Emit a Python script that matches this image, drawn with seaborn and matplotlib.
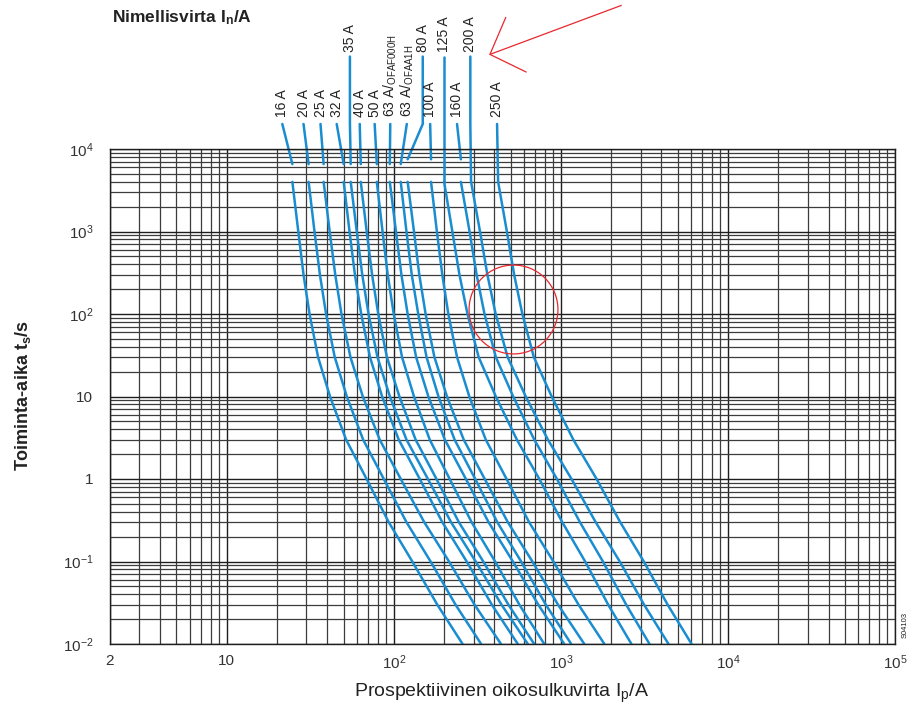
import numpy as np
import pandas as pd
import matplotlib
matplotlib.use("Agg")
import matplotlib.pyplot as plt
from matplotlib.ticker import FixedLocator, FixedFormatter, LogLocator, NullFormatter
import seaborn as sns

# operating time levels (s) at which the curves were read
t_levels = [4000, 1000, 300, 100, 30, 10, 3, 1, 0.3, 0.1, 0.03, 0.01]

ratings = ["16 A", "20 A", "25 A", "32 A", "35 A", "40 A", "50 A",
           "63 A/$\\mathregular{_{OFAF000H}}$", "63 A/$\\mathregular{_{OFAA1H}}$",
           "80 A", "100 A", "125 A", "160 A", "200 A", "250 A"]

# prospective current (A) of each curve at t_levels
i_16 = [24.7, 26.8, 28.8, 31.3, 35.2, 41.5, 51.8, 68.7, 93.2, 129, 182, 258]
i_20 = [30.9, 33.5, 36.1, 39.3, 44.3, 52.3, 65.5, 87.1, 119, 166, 234, 333]
i_25 = [38.0, 41.3, 44.6, 48.6, 55.0, 65.2, 82.3, 110, 152, 214, 304, 438]
i_32 = [50.1, 54.3, 58.5, 63.8, 72.0, 85.1, 107, 143, 195, 273, 386, 552]
i_35 = [55.2, 60.0, 64.7, 70.6, 79.8, 94.7, 119, 160, 220, 309, 441, 634]
i_40 = [63.4, 68.8, 74.1, 80.7, 90.9, 108, 135, 180, 245, 343, 485, 692]
i_50 = [79.1, 85.6, 91.9, 99.9, 112, 132, 164, 216, 292, 404, 564, 795]
i_63a = [94.6, 103, 111, 121, 136, 161, 202, 270, 369, 516, 732, 1047]
i_63b = [110, 119, 128, 140, 157, 185, 231, 307, 416, 578, 812, 1153]
i_80 = [121, 132, 142, 155, 175, 208, 262, 350, 481, 675, 961, 1381]
i_100 = [167, 181, 195, 212, 239, 283, 355, 473, 645, 902, 1275, 1821]
i_125 = [200, 224, 247, 276, 322, 408, 545, 743, 1019, 1397, 1919, 2644]
i_160 = [252, 284, 313, 349, 408, 518, 693, 947, 1300, 1785, 2459, 3392]
i_200 = [290, 328, 363, 407, 480, 616, 836, 1158, 1615, 2251, 3146, 4409]
i_250 = [421, 475, 525, 588, 689, 881, 1187, 1636, 2265, 3136, 4353, 6059]

# label positions above the grid (current, time at lower end of text)
label_x = [21.5, 28.8, 36.4, 45.5, 54.6, 62.5, 76.8, 95.2, 119.6, 149, 165, 200, 239, 287, 415]
label_row = [0, 0, 0, 0, 1, 0, 0, 0, 0, 1, 0, 1, 0, 1, 0]
row_text_t = [24500, 151000]
row_lead_t = [20100, 132000]
lead_knee_t = 20100
# where each leader line stops (gap before most curves)
lead_end_t = [6560, 6560, 6560, 6560, 6560, 6560, 6560, 6560, 6560,
              7500, 7500, 4000, 7500, 4000, 4000]

x_ticks = [2, 10, 100, 1000, 10000, 100000]
x_ticklabels = ["2", "10", "$\\mathregular{10^2}$", "$\\mathregular{10^3}$",
                "$\\mathregular{10^4}$", "$\\mathregular{10^5}$"]
y_ticks = [0.01, 0.1, 1, 10, 100, 1000, 10000]
y_ticklabels = ["$\\mathregular{10^{-2}}$", "$\\mathregular{10^{-1}}$", "1", "10",
                "$\\mathregular{10^2}$", "$\\mathregular{10^3}$", "$\\mathregular{10^4}$"]

# red highlight
circle_x, circle_t = 515, 116
arrow_tip = (372, 139000)
arrow_tail = (2300, 550000)

blue = "#1a8dd0"
red = "#e8282e"

sns.set_theme(style="white")
plt.rcParams["font.family"] = ["Liberation Sans", "DejaVu Sans"]

curves = [i_16, i_20, i_25, i_32, i_35, i_40, i_50, i_63a, i_63b,
          i_80, i_100, i_125, i_160, i_200, i_250]
df = pd.DataFrame([(r, i, t) for r, row in zip(ratings, curves)
                   for i, t in zip(row, t_levels)],
                  columns=["rating", "current", "time"])

fig = plt.figure(figsize=(9.15, 7.11), dpi=100)
ax = fig.add_axes([110 / 915, 1 - 644 / 711, 785 / 915, 495 / 711])
ax.set_xscale("log")
ax.set_yscale("log")

sns.lineplot(data=df, x="current", y="time", units="rating", estimator=None,
             sort=False, color=blue, linewidth=1.8, legend=False, ax=ax)

ax.set_xlim(2, 1e5)
ax.set_ylim(0.01, 1e4)

# log grid, decades plus 2..9 subdivisions
ax.xaxis.set_major_locator(FixedLocator(x_ticks))
ax.xaxis.set_major_formatter(FixedFormatter(x_ticklabels))
ax.yaxis.set_major_locator(FixedLocator(y_ticks))
ax.yaxis.set_major_formatter(FixedFormatter(y_ticklabels))
ax.xaxis.set_minor_locator(LogLocator(base=10, subs=np.arange(2, 10), numticks=50))
ax.yaxis.set_minor_locator(LogLocator(base=10, subs=np.arange(2, 10), numticks=50))
ax.xaxis.set_minor_formatter(NullFormatter())
ax.yaxis.set_minor_formatter(NullFormatter())
ax.grid(which="major", color="#1e1e1e", linewidth=1.0)
ax.grid(which="minor", color="#3c3c3c", linewidth=0.9)
ax.set_axisbelow(True)
ax.tick_params(which="both", length=0, labelsize=11, colors="#333333")
ax.tick_params(axis="x", pad=7)
ax.tick_params(axis="y", pad=12)
for s in ax.spines.values():
    s.set_color("#1e1e1e")
    s.set_linewidth(1.0)
ax.set_xlabel("")
ax.set_ylabel("")

# rating labels with leader lines down to each curve
for lab, lx, row, curve, t_end in zip(ratings, label_x, label_row, curves, lead_end_t):
    ax.text(lx, row_text_t[row], lab, rotation=90, ha="center", va="bottom",
            fontsize=10, color="#222222", clip_on=False)
    ax.plot([lx, lx, curve[0]], [row_lead_t[row], lead_knee_t, t_end],
            color=blue, linewidth=1.8, clip_on=False)

# highlight circle and arrow
ax.plot([circle_x], [circle_t], marker="o", markersize=64, markerfacecolor="none",
        markeredgecolor=red, markeredgewidth=0.9, linestyle="none", clip_on=False)
ax.annotate("", xy=arrow_tip, xytext=arrow_tail, annotation_clip=False,
            arrowprops=dict(arrowstyle="->,head_length=2.0,head_width=2.1",
                            color=red, lw=0.9, shrinkA=0, shrinkB=0,
                            mutation_scale=10))

fig.text(112 / 915, 1 - 18 / 711, "Nimellisvirta I$\\mathregular{_n}$/A",
         fontsize=12.5, fontweight="bold", color="#222222", va="center", ha="left")
fig.text(23 / 915, 1 - 396 / 711, "Toiminta-aika t$\\mathregular{_s}$/s",
         fontsize=13, fontweight="bold", color="#222222", rotation=90,
         va="center", ha="center")
fig.text(502 / 915, 1 - 693 / 711, "Prospektiivinen oikosulkuvirta I$\\mathregular{_p}$/A",
         fontsize=14, color="#222222", va="center", ha="center")
fig.text(905 / 915, 1 - 625 / 711, "S04103", fontsize=5.5, rotation=90,
         color="#222222", va="center", ha="center")

fig.savefig("out.png", dpi=100)
